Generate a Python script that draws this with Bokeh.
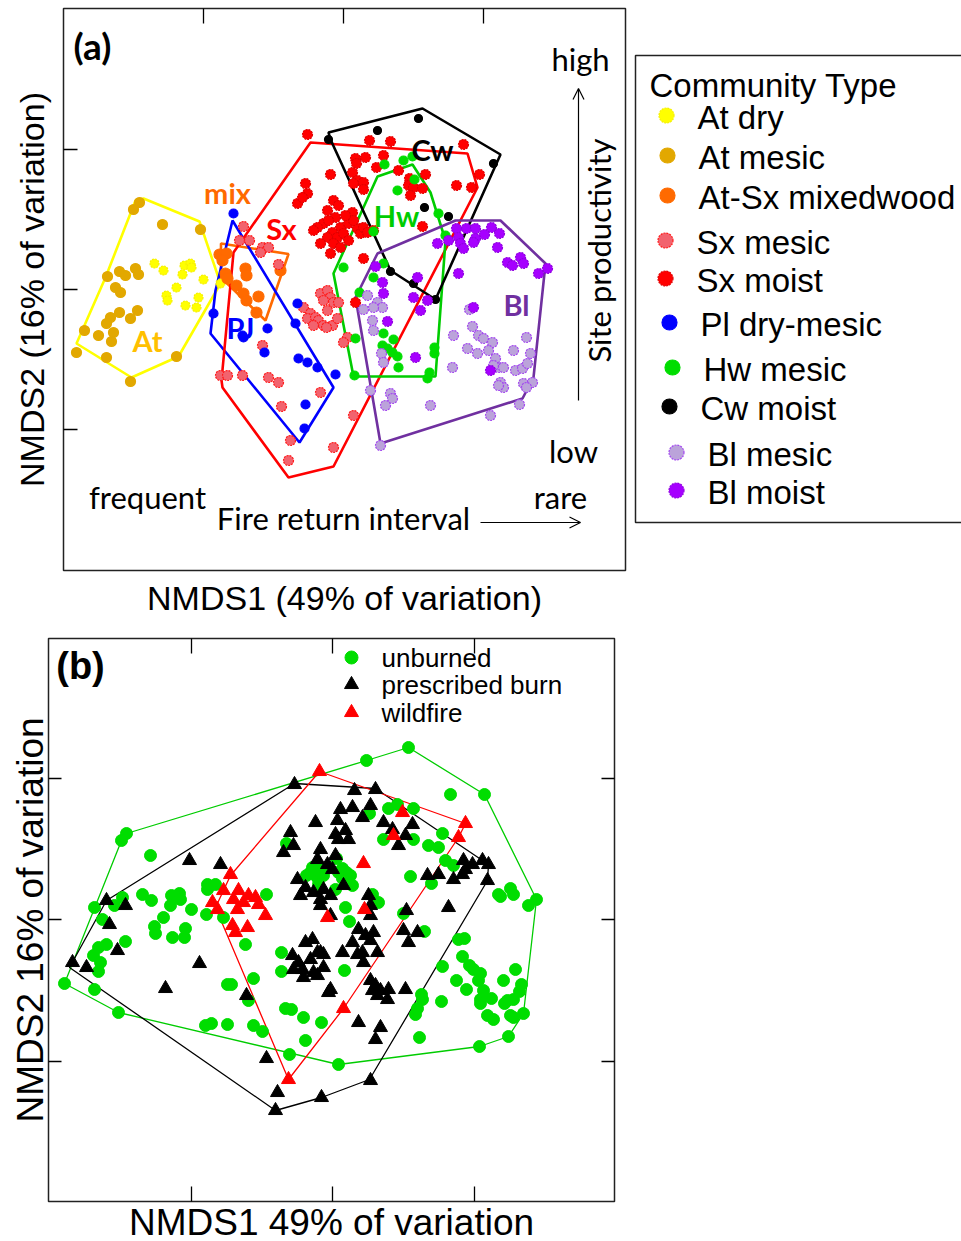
import numpy as np
from bokeh.plotting import figure
from bokeh.layouts import column, row
from bokeh.models import Range1d, LinearAxis, FixedTicker, Arrow, OpenHead, Label
from bokeh.embed import file_html
from bokeh.resources import INLINE
from bokeh.core.properties import value

# ---------------- Panel (a) data: NMDS scores per community type ----------------
at_dry_x = [-1.89, -1.80, -1.59, -1.53, -1.52, -1.61, -1.40, -1.23, -1.67, -1.77, -1.76, -1.58, -1.45, -1.47]
at_dry_y = [0.26, 0.19, 0.24, 0.26, 0.22, 0.15, 0.10, 0.06, 0.02, -0.06, -0.11, -0.16, -0.08, -0.18]

at_mesic_x = [-2.04, -2.10, -1.81, -1.43, -2.36, -2.24, -2.18, -2.08, -2.05, -2.28, -2.23, -2.24,
              -2.33, -2.37, -2.06, -2.13, -2.59, -2.45, -2.30, -2.32, -2.67, -2.37, -2.13, -1.67]
at_mesic_y = [0.87, 0.80, 0.65, 0.60, 0.13, 0.18, 0.14, 0.21, 0.15, 0.02, -0.03, -0.23,
              -0.28, -0.34, -0.21, -0.29, -0.41, -0.46, -0.43, -0.52, -0.63, -0.68, -0.92, -0.67]

mix_x = [-1.24, -1.17, -1.18, -1.16, -0.98, -0.97, -1.07, -1.00, -0.97, -0.85, -0.87, -0.63, -1.21]
mix_y = [0.35, 0.36, 0.16, 0.11, 0.21, 0.14, 0.04, -0.04, -0.11, -0.07, -0.23, 0.19, 0.29]

pl_x = [-1.10, -1.30, -0.46, -0.48, -0.76, -1.01, -1.00, -0.79, -0.45, -0.36, -0.26, -0.08, -0.38, -0.39]
pl_y = [0.76, -0.24, -0.14, -0.34, -0.39, -0.46, -0.48, -0.63, -0.69, -0.73, -0.78, -0.85, -1.15, -1.39]

sx_moist_x = [-0.36, 0.26, 0.47, 1.20, 0.12, 0.22, 0.13, 0.33, 0.40, 0.55,
              0.66, 0.09, 0.14, 0.20, 0.10, 0.20, -0.13, -0.38, -0.36, -0.46,
              -0.41, 0.65, 0.70, 0.79, 0.67, 0.82, 1.13, 1.28, 1.36,
              -0.16, -0.10, -0.08, -0.03, -0.11, -0.20, -0.26, -0.30, -0.06, 0.00,
              -0.16, -0.10, -0.23, -0.03, -0.13, 0.05, 0.09, 0.05, 0.14, 0.17,
              0.10, 0.20, 0.24, 0.30, 0.20, 0.12, 0.79, -0.15, -0.05, 0.02]
sx_moist_y = [1.55, 1.49, 1.48, 1.45, 1.31, 1.32, 1.26, 1.22, 1.34, 1.19,
              1.11, 1.17, 1.09, 1.07, 1.06, 1.00, 1.15, 1.06, 0.96, 0.86,
              0.92, 1.04, 1.02, 1.01, 0.94, 1.15, 1.04, 1.02, 1.15,
              0.79, 0.89, 0.72, 0.62, 0.57, 0.66, 0.62, 0.59, 0.52, 0.56,
              0.52, 0.46, 0.46, 0.42, 0.36, 0.66, 0.77, 0.49, 0.61, 0.56,
              0.69, 0.62, 0.57, 0.59, 0.31, -0.13, 0.63, 0.69, 0.84, 0.74]

sx_mesic_x = [-1.00, -1.04, -0.94, -0.81, -0.75, -0.83, -0.65, -0.23, -0.16, -0.13,
              -0.20, -0.10, -0.05, -0.40, -0.33, -0.36, -0.28, -0.25, -0.20, -0.30,
              -0.11, -0.16, -0.06, -0.17, 0.04, 0.00, -0.81, -1.23, -1.16, -1.01,
              -0.75, -0.65, -0.23, -0.62, 0.10, -0.53, -0.10, -0.55]
sx_mesic_y = [0.63, 0.49, 0.49, 0.42, 0.42, 0.37, 0.25, -0.04, -0.01, -0.08,
              -0.11, -0.13, -0.13, -0.18, -0.24, -0.29, -0.28, -0.31, -0.36, -0.36,
              -0.36, -0.21, -0.29, -0.38, -0.48, -0.53, -0.56, -0.86, -0.86, -0.86,
              -0.88, -0.93, -1.03, -1.17, -1.26, -1.51, -1.58, -1.71]

hw_x = [0.41, 0.60, 0.69, 0.54, 0.71, 0.95, 1.02, 0.30, 0.00, 0.40, 0.30, 0.16, 0.12,
        0.40, 0.50, 0.39, 0.44, 0.49, 0.54, 0.55, 0.11, 0.84, 0.86, 0.91, 0.91]
hw_y = [1.25, 1.29, 1.33, 0.99, 1.10, 0.76, 0.54, 0.58, 0.22, 0.26, 0.12, -0.03, -0.49,
        -0.44, -0.50, -0.56, -0.59, -0.63, -0.67, -0.78, -0.86, -0.89, -0.83, -0.58, -0.64]

cw_x = [-0.15, 0.34, 0.75, 0.81, 1.05, 1.50, 0.47, 0.70, 0.92]
cw_y = [1.50, 1.59, 1.71, 0.82, 0.73, 1.26, 0.18, 0.06, -0.10]

bl_moist_x = [1.13, 1.23, 1.32, 1.48, 1.56, 1.41, 1.32, 1.30, 1.15, 1.17, 1.20, 1.05, 0.94, 1.54,
              1.64, 1.69, 1.77, 1.80, 1.95, 2.04, 1.15, 0.74, 0.39, 0.32, 0.40, 0.70, 0.84, 0.77,
              1.30, 0.44, 0.72, 1.47]
bl_moist_y = [0.61, 0.61, 0.61, 0.62, 0.56, 0.55, 0.51, 0.47, 0.52, 0.46, 0.41, 0.49, 0.46, 0.42,
              0.27, 0.24, 0.32, 0.26, 0.16, 0.21, 0.16, 0.12, 0.07, 0.23, -0.04, -0.08, -0.11, -0.21,
              -0.18, -0.32, -0.68, -0.81]

bl_mesic_x = [0.24, 0.34, 0.39, 0.30, 0.20, 0.29, 0.30, 0.38, 0.40, 0.47,
              0.49, 0.42, 0.37, 0.27, 0.87, 1.09, 1.10, 1.26, 1.29, 1.24,
              1.34, 1.35, 1.40, 1.49, 1.45, 1.52, 1.55, 1.60, 1.50, 1.70,
              1.83, 1.87, 1.72, 1.79, 1.84, 1.57, 1.60, 1.55, 1.80, 1.89,
              1.83, 1.76, 1.47]
bl_mesic_y = [-0.06, -0.13, -0.18, -0.18, -0.20, -0.31, -0.41, -0.64, -0.73, -1.04,
              -1.09, -1.16, -1.56, -1.01, -1.16, -0.78, -0.46, -0.20, -0.37, -0.59,
              -0.64, -0.46, -0.49, -0.53, -0.61, -0.69, -0.78, -0.78, -0.76, -0.61,
              -0.48, -0.64, -0.81, -0.79, -0.74, -0.93, -0.98, -0.96, -0.94, -0.93,
              -0.98, -1.15, -1.26]

# hull outlines of panel (a)
at_hull_x = [-2.00, -1.44, -1.23, -1.65, -2.12, -2.67, -2.38, -2.08]
at_hull_y = [0.91, 0.68, 0.06, -0.67, -0.88, -0.54, 0.12, 0.89]
mix_hull_x = [-1.225, -0.55, -0.78, -1.225]
mix_hull_y = [0.46, 0.355, -0.31, 0.12]
pl_hull_x = [-1.11, -0.10, -0.44, -1.33, -1.28]
pl_hull_y = [0.69, -0.98, -1.53, -0.44, -0.01]
sx_hull_x = [-0.33, 1.24, 1.34, -0.10, -0.55, -1.21, -1.22, -1.10]
sx_hull_y = [1.47, 1.36, 1.02, -1.77, -1.88, -0.98, -0.91, 0.37]
hw_hull_x = [0.34, 0.69, 0.87, 1.02, 0.92, 0.10, -0.10]
hw_hull_y = [1.13, 1.25, 0.97, 0.49, -0.87, -0.87, 0.16]
cw_hull_x = [-0.15, 0.79, 1.57, 0.92, 0.47, -0.13]
cw_hull_y = [1.57, 1.81, 1.35, -0.10, 0.19, 1.50]
bl_hull_x = [0.34, 1.12, 1.57, 2.02, 1.90, 1.79, 0.37, 0.12]
bl_hull_y = [0.36, 0.69, 0.69, 0.26, -0.88, -1.09, -1.54, -0.08]

community_names = ["At dry", "At mesic", "At-Sx mixedwood", "Sx mesic", "Sx moist",
                   "Pl dry-mesic", "Hw mesic", "Cw moist", "Bl mesic", "Bl moist"]

# ---------------- Panel (b) data: burn treatment ----------------
unb_x = [-2.06, -2.11, -1.82, -1.25, -1.17, -1.25, -2.10, -2.18, -2.38, -1.90,
         -1.81, -1.61, -1.53, -1.52, -1.62, -1.41, -1.26, -1.09, -0.66, -2.30,
         -1.69, -1.78, -1.77, -1.47, -1.48, -1.60, -2.07, -2.26, -2.34, -2.39,
         -2.32, -2.34, -0.87, -2.68, -2.38, -2.14, -1.05, -1.01, -0.79, -0.84,
         -0.51, -0.51, -0.46, -1.27, -1.21, -1.05, -0.79, -0.70, -0.47, -0.41,
         -0.29, -0.11, -0.27, -0.43, 0.06, -0.26, -0.20, -0.16, -0.11, -0.14,
         -0.09, 0.04, 0.10, 0.10, 0.18, 0.20, 0.03, -0.17, -0.14, 0.13,
         0.17, 0.12, 0.76, 0.34, 1.18, 1.52, 0.37, 0.56, 0.65, 0.81,
         0.51, 0.81, 0.96, 1.06, 1.10, 1.13, 1.21, 0.78, 0.99, 0.40,
         0.46, 0.71, 0.92, 1.66, 1.68, 1.78, 1.81, 2.04, 1.96, 1.26,
         1.32, 1.30, 1.37, 1.41, 1.48, 1.46, 1.24, 1.34, 1.51, 1.48,
         1.48, 1.59, 1.71, 1.83, 1.89, 1.87, 1.81, 1.75, 1.72, 1.91,
         1.78, 1.81, 1.55, 1.61, 1.10, 1.09, 0.89, 0.90, 0.85, 0.83,
         0.87, 1.76, 1.47, -0.22, -0.12, 0.06, 0.14]
unb_y = [0.86, 0.79, 0.64, 0.35, 0.35, 0.30, 0.22, 0.14, 0.12, 0.25,
         0.19, 0.24, 0.26, 0.20, 0.14, 0.10, 0.05, 0.02, 0.25, 0.00,
         0.02, -0.07, -0.14, -0.09, -0.18, -0.18, -0.22, -0.25, -0.28, -0.36,
         -0.43, -0.52, -0.25, -0.64, -0.70, -0.93, -0.65, -0.65, -0.59, -0.81,
         -0.33, -0.52, 0.76, -1.06, -1.04, -1.05, -1.06, -1.12, -0.89, -0.90,
         -0.98, -1.03, -1.21, -1.35, -1.45, 0.44, 0.52, 0.54, 0.50, 0.40,
         0.44, 0.61, 0.51, 0.41, 0.44, 0.34, 0.30, 0.44, 0.35, 0.12,
         -0.02, -0.51, 1.72, 1.59, 1.25, 1.25, 1.06, 1.11, 1.15, 1.11,
         0.80, 0.80, 0.74, 0.72, 0.86, 0.59, 0.54, 0.43, 0.36, 0.25,
         0.17, 0.06, -0.12, 0.25, 0.23, 0.31, 0.25, 0.20, 0.14, -0.20,
         -0.19, -0.37, -0.46, -0.50, -0.54, -0.61, -0.61, -0.70, -0.71, -0.80,
         -0.84, -0.79, -0.61, -0.50, -0.65, -0.72, -0.80, -0.81, -0.84, -0.94,
         -0.96, -0.98, -0.96, -1.00, -0.47, -0.82, -0.75, -0.80, -0.89, -0.95,
         -1.18, -1.17, -1.27, 0.47, 0.47, 0.47, 0.47]

pb_x = [-2.60, -2.46, -2.26, -2.07, -2.23, -2.15, -1.43, -1.12, -1.33, -1.67,
        -0.86, -0.66, -0.55, -0.57, -0.11, 0.38, -0.38, 0.22, 0.43, -0.17,
        -0.42, -0.39, -0.49, 0.08, 0.20, 0.38, 0.30, 0.51, 0.05, 0.03,
        0.13, 0.16, 0.06, 0.80, 0.73, 0.66, 0.60, -0.12, 0.03, -0.05,
        0.00, -0.15, -0.35, -0.27, -0.32, -0.19, -0.12, -0.09, -0.02, -0.12,
        0.11, -0.02, 0.36, 0.38, 0.38, 0.95, 1.06, 1.21, 1.31, 1.33,
        1.40, 1.50, 1.56, 1.30, 1.55, 1.16, 0.74, 0.71, 0.85, 0.76,
        0.26, 0.33, 0.41, 0.38, 0.20, 0.25, 0.31, 0.30, 0.45, 0.10,
        -0.27, -0.20, -0.15, -0.12, -0.09, -0.40, -0.34, -0.39, -0.30, -0.22,
        -0.19, -0.09, -0.29, -0.15, -0.02, -0.04, 0.38, 0.43, 0.40, 0.48,
        0.56, 0.45, 0.55, 0.73, 0.26, 0.48, 0.43]
pb_y = [-0.43, -0.48, 0.19, 0.14, -0.05, -0.31, 0.59, 0.55, -0.44, -0.69,
        -0.76, -1.39, -1.73, -1.91, -1.78, -1.61, 1.35, 1.29, 1.30, 0.97,
        0.87, 0.74, 0.67, 1.10, 1.12, 1.14, 1.02, 0.97, 0.99, 0.85,
        0.89, 0.80, 0.80, 0.95, 0.84, 0.74, 0.90, 0.70, 0.64, 0.55,
        0.50, 0.60, 0.40, 0.32, 0.24, 0.27, 0.20, 0.30, 0.24, 0.14,
        0.34, 0.04, 0.24, 0.14, 0.04, 0.44, 0.45, 0.40, 0.59, 0.50,
        0.55, 0.59, 0.55, 0.45, 0.39, 0.12, 0.09, -0.11, -0.13, -0.23,
        -0.10, -0.16, -0.13, -0.21, -0.23, -0.35, -0.43, -0.33, -0.33, -0.33,
        -0.23, -0.20, -0.33, -0.33, -0.35, -0.36, -0.43, -0.50, -0.50, -0.40,
        -0.53, -0.48, -0.58, -0.56, -0.70, -0.73, -0.61, -0.66, -0.71, -0.71,
        -0.70, -0.76, -0.80, -0.70, -1.03, -1.08, -1.20]

wf_x = [-0.13, 0.70, 0.61, 1.33, 1.26, 0.31, 0.32, -0.05, 0.11, -0.44,
        -1.02, -1.09, -0.94, -0.84, -0.77, -0.99, -0.89, -0.74, -0.95, -1.20,
        -1.15, -0.67, -1.00, -0.97, -0.85]
wf_y = [1.48, 1.07, 0.84, 0.96, 0.82, 0.56, 0.10, 0.02, -0.89, -1.60,
        0.45, 0.29, 0.29, 0.24, 0.22, 0.20, 0.17, 0.15, 0.10, 0.17,
        0.10, 0.04, -0.06, -0.13, -0.08]

unb_hull_x = [-2.68, -2.14, 0.06, 1.47, 1.76, 1.91, 2.04, 1.52, 0.76, 0.34, -2.06, -2.11]
unb_hull_y = [-0.64, -0.93, -1.45, -1.27, -1.17, -0.94, 0.20, 1.25, 1.72, 1.59, 0.86, 0.79]
pb_hull_x = [-2.63, -2.26, -0.38, 0.43, 1.56, 1.55, 0.37, -0.11, -0.57]
pb_hull_y = [-0.48, 0.19, 1.36, 1.31, 0.55, 0.39, -1.60, -1.78, -1.91]
wf_hull_x = [-1.02, -0.13, 1.33, 1.26, 0.11, -0.44, -1.17]
wf_hull_y = [0.44, 1.48, 0.96, 0.82, -0.89, -1.60, 0.12]

treatment_names = ["unburned", "prescribed burn", "wildfire"]

# ---------------- styles ----------------
ARIAL = "Liberation Sans"
CALIB = "Lato"

groups_a = [
    # name, x, y, fill, line, dash, size
    (community_names[0], at_dry_x, at_dry_y, "#FFFF00", "#F5F000", "2 1", 9),
    (community_names[1], at_mesic_x, at_mesic_y, "#E2A800", "#E2A800", "solid", 10),
    (community_names[2], mix_x, mix_y, "#FF6A00", "#FF6A00", "solid", 11),
    (community_names[3], sx_mesic_x, sx_mesic_y, "#F2636E", "#FF1A1A", "2 1", 10),
    (community_names[4], sx_moist_x, sx_moist_y, "#FF0000", "#E00000", "2 1", 10),
    (community_names[5], pl_x, pl_y, "#0000FF", "#0000FF", "solid", 9),
    (community_names[6], hw_x, hw_y, "#00DD00", "#00DD00", "solid", 9),
    (community_names[7], cw_x, cw_y, "#000000", "#000000", "solid", 8),
    (community_names[8], bl_mesic_x, bl_mesic_y, "#BBA3DA", "#A347F0", "2 1", 10),
    (community_names[9], bl_moist_x, bl_moist_y, "#A600FF", "#9000E0", "2 1", 10),
]

hulls_a = [
    (at_hull_x, at_hull_y, "#FFFF00"),
    (mix_hull_x, mix_hull_y, "#FF6A00"),
    (pl_hull_x, pl_hull_y, "#0000FF"),
    (sx_hull_x, sx_hull_y, "#FF0000"),
    (hw_hull_x, hw_hull_y, "#00CC00"),
    (cw_hull_x, cw_hull_y, "#000000"),
    (bl_hull_x, bl_hull_y, "#7030A0"),
]


def tick_axis(ax, ticks, length):
    ax.ticker = FixedTicker(ticks=ticks)
    ax.major_tick_in = length
    ax.major_tick_out = 0
    ax.minor_tick_line_color = None
    ax.major_tick_line_color = "black"
    ax.major_tick_line_width = 1.3
    ax.axis_line_color = None
    ax.major_label_text_font_size = "0px"
    ax.major_label_standoff = 0
    ax.major_label_overrides = {t: "" for t in ticks}
    ax.axis_label_text_color = "black"
    ax.axis_label_text_font = ARIAL
    ax.axis_label_text_font_style = "normal"


# ================= Panel (a) =================
pa = figure(frame_width=562, frame_height=562,
            x_range=Range1d(-2.80, 2.82), y_range=Range1d(-2.81, 2.81),
            min_border_left=63, min_border_right=2, min_border_top=8, min_border_bottom=47,
            output_backend="svg", toolbar_location=None)
pa.grid.visible = False
pa.outline_line_color = "#222222"
pa.outline_line_width = 1.5

ticks_a = [-1.4, 0.0, 1.4]
tick_axis(pa.yaxis[0], ticks_a, 14)
pa.yaxis[0].axis_label = "NMDS2 (16% of variation)"
pa.yaxis[0].axis_label_text_font_size = "34px"
pa.yaxis[0].axis_label_standoff = 13

tick_axis(pa.xaxis[0], [], 0)
pa.xaxis[0].axis_label = "NMDS1 (49% of variation)"
pa.xaxis[0].axis_label_text_font_size = "34px"
pa.xaxis[0].axis_label_standoff = 8

top_a = LinearAxis()
tick_axis(top_a, ticks_a, 15)
pa.add_layout(top_a, "above")

for hx, hy, col in hulls_a:
    pa.patch(hx, hy, fill_color=None, line_color=col, line_width=2.6)

for name, gx, gy, fc, lc, dash, sz in groups_a:
    pa.scatter(gx, gy, marker="circle", size=sz, fill_color=fc, line_color=lc,
               line_dash=dash, line_width=1.2)

group_labels = [("mix", -1.16, 0.97, "#FF6A00"), ("Sx", -0.62, 0.61, "#FF0000"),
                ("PJ", -1.03, -0.38, "#0000FF"), ("At", -1.96, -0.51, "#FFC000"),
                ("Hw", 0.53, 0.74, "#00CC00"), ("Cw", 0.89, 1.40, "#000000"),
                ("Bl", 1.73, -0.15, "#7030A0")]
for txt, lx, ly, col in group_labels:
    pa.add_layout(Label(x=lx, y=ly, text=txt, text_color=col, text_font=CALIB,
                        text_font_size="29px", text_font_style="bold",
                        text_align="center", text_baseline="middle"))

pa.add_layout(Label(x=-2.51, y=2.44, text="(a)", text_font=CALIB, text_font_size="37px",
                    text_font_style="bold", text_color="black",
                    text_align="center", text_baseline="middle"))

ann = [("high", 2.37, 2.31), ("low", 2.30, -1.61), ("rare", 2.17, -2.07),
       ("frequent", -1.96, -2.07), ("Fire return interval", 0.0, -2.28)]
for txt, lx, ly in ann:
    pa.add_layout(Label(x=lx, y=ly, text=txt, text_font=CALIB, text_font_size="31px",
                        text_align="center", text_baseline="middle", text_color="black"))
pa.add_layout(Label(x=2.55, y=0.39, text="Site productivity", angle=np.pi / 2,
                    text_font=CALIB, text_font_size="31px", text_align="center",
                    text_baseline="middle", text_color="black"))

pa.add_layout(Arrow(end=OpenHead(size=11, line_width=1.2, line_color="black"),
                    x_start=2.35, y_start=-1.11, x_end=2.35, y_end=2.01,
                    line_width=1.2, line_color="black"))
pa.add_layout(Arrow(end=OpenHead(size=11, line_width=1.2, line_color="black"),
                    x_start=1.37, y_start=-2.33, x_end=2.37, y_end=-2.33,
                    line_width=1.2, line_color="black"))

# ---------------- legend for panel (a): its frame spans page y 8..570 ----------------
lg = figure(width=334, frame_height=562, x_range=Range1d(0, 334), y_range=Range1d(570, 8),
            min_border_left=0, min_border_right=0, min_border_top=8, min_border_bottom=47,
            output_backend="svg", toolbar_location=None,
            x_axis_location=None, y_axis_location=None, outline_line_color=None)
lg.grid.visible = False
lg.quad(left=8, right=350, top=55, bottom=522, fill_color=None, line_color="#222222", line_width=1.5)
lg.text(x=[22], y=[85], text=["Community Type"], text_font=value(ARIAL),
        text_font_size=value("33px"), text_baseline="middle", text_align="left")

leg_marker_x = [39, 40, 40, 38, 38, 42, 45, 42, 49, 49]
leg_marker_y = [115, 155, 195, 240, 278, 322, 367, 406, 452, 490]
leg_text_dx = 31
for i, (name, gx, gy, fc, lc, dash, sz) in enumerate(groups_a):
    lg.scatter([leg_marker_x[i]], [leg_marker_y[i]], marker="circle", size=15,
               fill_color=fc, line_color=lc, line_dash=dash, line_width=1.2)
    lg.text(x=[leg_marker_x[i] + leg_text_dx], y=[leg_marker_y[i] + 2], text=[name],
            text_font=value(ARIAL), text_font_size=value("33px"),
            text_baseline="middle", text_align="left")

# ================= Panel (b) =================
pb = figure(frame_width=566, frame_height=563,
            x_range=Range1d(-2.84, 2.82), y_range=Range1d(-2.82, 2.81),
            min_border_left=48, min_border_right=4, min_border_top=19, min_border_bottom=41,
            output_backend="svg", toolbar_location=None)
pb.grid.visible = False
pb.outline_line_color = "#222222"
pb.outline_line_width = 1.5

ticks_b = [-1.415, 0.0, 1.415]
tick_axis(pb.xaxis[0], ticks_b, 15)
tick_axis(pb.yaxis[0], ticks_b, 13)
pb.xaxis[0].axis_label = "NMDS1 49% of variation"
pb.yaxis[0].axis_label = "NMDS2 16% of variation"
for ax, st in ((pb.xaxis[0], 0), (pb.yaxis[0], -2)):
    ax.axis_label_text_font_size = "37px"
    ax.axis_label_standoff = st
top_b = LinearAxis()
tick_axis(top_b, ticks_b, 15)
pb.add_layout(top_b, "above")
right_b = LinearAxis()
tick_axis(right_b, ticks_b, 13)
pb.add_layout(right_b, "right")

pb.patch(unb_hull_x, unb_hull_y, fill_color=None, line_color="#00CC00", line_width=1.3)
pb.patch(pb_hull_x, pb_hull_y, fill_color=None, line_color="#000000", line_width=1.3)
pb.patch(wf_hull_x, wf_hull_y, fill_color=None, line_color="#FF0000", line_width=1.3)

pb.scatter(unb_x, unb_y, marker="circle", size=12, fill_color="#00DD00", line_color="#00DD00")
pb.scatter(pb_x, pb_y, marker="triangle", size=14, fill_color="#000000", line_color="#000000")
pb.scatter(wf_x, wf_y, marker="triangle", size=14, fill_color="#FF0000", line_color="#FF0000")

pb.add_layout(Label(x=-2.52, y=2.54, text="(b)", text_font=ARIAL, text_font_size="38px",
                    text_font_style="bold", text_color="black",
                    text_align="center", text_baseline="middle"))

leg_b_y = [2.62, 2.35, 2.07]
pb.scatter([0.19], [leg_b_y[0]], marker="circle", size=13, fill_color="#00DD00", line_color="#00DD00")
pb.scatter([0.19], [leg_b_y[1]], marker="triangle", size=14, fill_color="#000000", line_color="#000000")
pb.scatter([0.19], [leg_b_y[2]], marker="triangle", size=14, fill_color="#FF0000", line_color="#FF0000")
pb.text(x=[0.49] * 3, y=leg_b_y, text=treatment_names, text_font=value(ARIAL),
        text_font_size=value("26px"), text_baseline="middle", text_align="left")

layout = column(row(pa, lg), pb)
open("out.html", "w").write(file_html(layout, INLINE, "NMDS ordination"))
